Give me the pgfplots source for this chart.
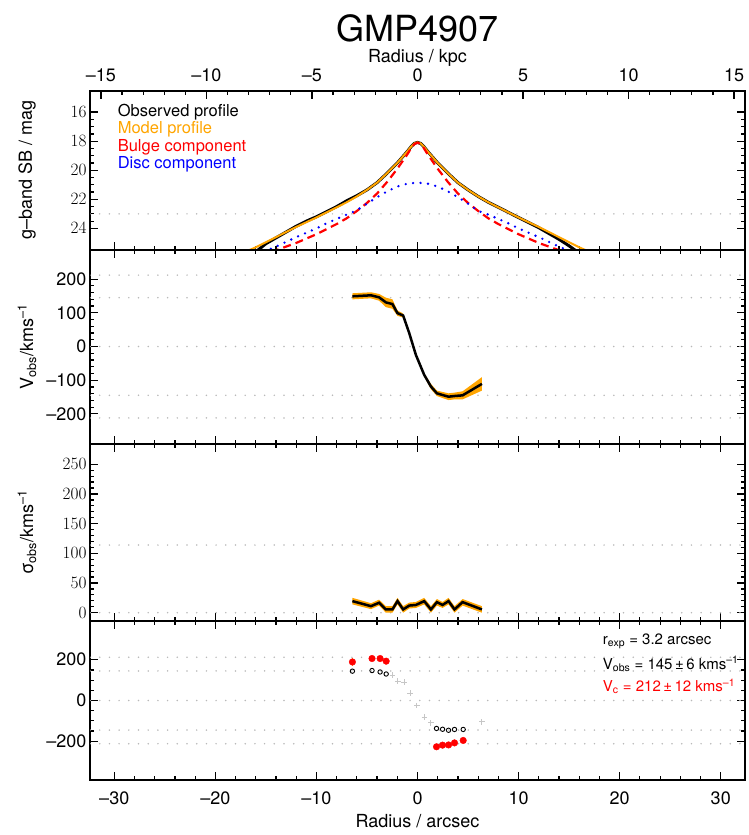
\documentclass[border=0pt]{standalone}
\usepackage{pgfplots}
\pgfplotsset{compat=1.18}
\usepackage{fontspec}
\setmainfont{TeX Gyre Heros}
\definecolor{myorange}{RGB}{255,165,0}
\definecolor{myred}{RGB}{255,0,0}
\definecolor{myblue}{RGB}{0,0,255}
\definecolor{dotgray}{RGB}{185,185,185}

\pgfplotsset{
  panel/.style={
    scale only axis, width=655pt, xmin=-32.4, xmax=32.4,
    axis line style={line width=2pt},
    tick align=inside,
    major tick length=8pt, minor tick length=4pt,
    every tick/.style={black, line width=1.2pt},
    xtick={-30,-20,...,30}, minor x tick num=4,
    tick label style={font=\fontsize{18}{20}\selectfont},
    label style={font=\fontsize{18}{20}\selectfont},
    ylabel style={at={(axis description cs:-0.096,0.5)}, anchor=center},
    xticklabels={},
    clip=true,
  },
  gridline/.style={dotgray, line width=1.7pt, dash pattern=on 0pt off 9.7pt, line cap=round},
}

\begin{document}
\begin{tikzpicture}
\useasboundingbox (0,0) rectangle (749pt,-835pt);

% ---------------- Panel 1: surface brightness ----------------
\begin{axis}[panel, at={(90pt,-91pt)}, anchor=north west, height=158.5pt,
  y dir=reverse, ymin=14.55, ymax=25.45,
  xtick pos=bottom, ytick pos=both,
  ytick={16,18,20,22,24}, minor y tick num=3,
  ylabel={g–band SB / mag}]
\addplot[gridline] coordinates {(-32.4,23) (32.4,23)};
\addplot[black, line width=3pt] coordinates {
(-15.8,25.5) (-15,25.05) (-14,24.65) (-13,24.25) (-12,23.85) (-11,23.5) (-10,23.2) (-9,22.85) (-8,22.5) (-7,22.1) (-6,21.75) (-5,21.35) (-4,20.85) (-3,20.2) (-2.5,19.85) (-2,19.5) (-1.5,19.1) (-1,18.7) (-0.6,18.35) (-0.3,18.15) (0,18.08)
(0.3,18.15) (0.6,18.35) (1,18.7) (1.5,19.1) (2,19.5) (2.5,19.85) (3,20.2) (4,20.85) (5,21.35) (6,21.8) (7,22.2) (8,22.55) (9,22.9) (10,23.25) (11,23.6) (12,23.95) (13,24.35) (14,24.75) (15,25.2) (15.6,25.5)};
\addplot[myorange, line width=2pt] coordinates {
(-17,25.6) (-16,25.3) (-14,24.6) (-12,23.9) (-10,23.25) (-8,22.55) (-7,22.2) (-6,21.8) (-5,21.35) (-4,20.85) (-3,20.2) (-2.5,19.85) (-2,19.5) (-1.5,19.1) (-1,18.7) (-0.6,18.35) (-0.3,18.15) (0,18.08)
(0.3,18.15) (0.6,18.35) (1,18.7) (1.5,19.1) (2,19.5) (2.5,19.85) (3,20.2) (4,20.85) (5,21.35) (6,21.8) (7,22.2) (8,22.55) (10,23.25) (12,23.9) (14,24.6) (16,25.3) (17,25.6)};
\addplot[myred, line width=2.2pt, dash pattern=on 8pt off 5pt] coordinates {
(-14.5,25.6) (-14,25.5) (-12,25.0) (-10,24.4) (-8,23.7) (-7,23.3) (-6,22.8) (-5,22.25) (-4,21.6) (-3,20.8) (-2.5,20.35) (-2,19.9) (-1.5,19.4) (-1,18.9) (-0.6,18.45) (-0.3,18.2) (0,18.1)
(0.3,18.2) (0.6,18.45) (1,18.9) (1.5,19.4) (2,19.9) (2.5,20.35) (3,20.8) (4,21.6) (5,22.25) (6,22.8) (7,23.3) (8,23.7) (10,24.4) (12,25.0) (14,25.5) (14.5,25.6)};
\addplot[myblue, line width=2.6pt, dash pattern=on 0pt off 7.5pt, line cap=round] coordinates {
(-15.2,25.6) (-14,25.25) (-12,24.6) (-10,24.0) (-9,23.65) (-8,23.35) (-7,23.05) (-6,22.75) (-5,22.3) (-4,21.85) (-3,21.45) (-2,21.12) (-1,20.92) (0,20.85)
(1,20.92) (2,21.12) (3,21.45) (4,21.85) (5,22.3) (6,22.8) (7,23.05) (8,23.35) (9,23.65) (10,24.0) (12,24.6) (14,25.25) (15.2,25.6)};
\node[anchor=west, text=black, font=\fontsize{16.5}{18}\selectfont] at (axis cs:-30,15.98) {Observed profile};
\node[anchor=west, text=myorange, font=\fontsize{16.5}{18}\selectfont] at (axis cs:-30,17.21) {Model profile};
\node[anchor=west, text=myred, font=\fontsize{16.5}{18}\selectfont] at (axis cs:-30,18.45) {Bulge component};
\node[anchor=west, text=myblue, font=\fontsize{16.5}{18}\selectfont] at (axis cs:-30,19.61) {Disc component};
\end{axis}

% top kpc axis
\begin{axis}[scale only axis, width=655pt, height=158.5pt, at={(90pt,-91pt)}, anchor=north west,
  xmin=-15.52, xmax=15.52, ymin=0, ymax=1, clip=false,
  axis x line*=top, hide y axis,
  axis line style={line width=2pt},
  tick align=inside, major tick length=8pt, minor tick length=4pt,
  every tick/.style={black, line width=1.2pt},
  xtick={-15,-10,...,15}, xticklabels={–15,–10,–5,0,5,10,15}, minor x tick num=4,
  tick label style={font=\fontsize{18}{20}\selectfont},
  xticklabel style={yshift=6pt}]
\addplot[draw=none] coordinates {(0,0.5)};
\node[font=\fontsize{18}{20}\selectfont, anchor=center] at (rel axis cs:0.5,1.208) {Radius / kpc};
\node[font=\fontsize{36}{40}\selectfont, anchor=center] at (rel axis cs:0.5,1.392) {GMP4907};
\end{axis}

% ---------------- Panel 2: V_obs ----------------
\begin{axis}[panel, at={(90pt,-249.5pt)}, anchor=north west, height=194pt,
  ymin=-288, ymax=288,
  ytick={-200,-100,0,100,200}, yticklabels={–200,–100,0,100,200}, minor y tick num=4,
  ylabel={V\textsubscript{obs}/kms\textsuperscript{–1}}]
\addplot[gridline] coordinates {(-32.4,212) (32.4,212)};
\addplot[gridline] coordinates {(-32.4,145) (32.4,145)};
\addplot[gridline] coordinates {(-32.4,0) (32.4,0)};
\addplot[gridline] coordinates {(-32.4,-145) (32.4,-145)};
\addplot[gridline] coordinates {(-32.4,-212) (32.4,-212)};
\addplot[fill=myorange, draw=none] coordinates {
(-6.44,158) (-4.6,161) (-3.8,156) (-3.13,145) (-2.48,140) (-1.98,107) (-1.42,98) (-0.82,45) (-0.16,-20) (0.66,-79) (1.33,-111) (1.92,-131) (2.48,-135) (3.07,-139) (3.66,-137) (4.46,-133) (6.37,-91)
(6.37,-131) (4.46,-157) (3.66,-157) (3.07,-159) (2.48,-153) (1.92,-147) (1.33,-127) (0.66,-89) (-0.16,-30) (-0.82,35) (-1.42,86) (-1.98,91) (-2.48,112) (-3.13,117) (-3.8,136) (-4.6,143) (-6.44,140)} -- cycle;
\addplot[black, line width=2.5pt] coordinates {
(-6.44,149) (-4.6,152) (-3.8,146) (-3.13,131) (-2.48,126) (-1.98,99) (-1.42,92) (-0.82,40) (-0.16,-25) (0.66,-84) (1.33,-119) (1.92,-139) (2.48,-144) (3.07,-149) (3.66,-147) (4.46,-145) (6.37,-111)};
\end{axis}

% ---------------- Panel 3: sigma ----------------
\begin{axis}[panel, at={(90pt,-443.5pt)}, anchor=north west, height=177.5pt,
  ymin=-14, ymax=285,
  ytick={0,50,...,250}, minor y tick num=4,
  ylabel={σ\textsubscript{obs}/kms\textsuperscript{–1}}]
\addplot[gridline] coordinates {(-32.4,114) (32.4,114)};
\addplot[gridline] coordinates {(-32.4,0) (32.4,0)};
\addplot[fill=myorange, draw=none] coordinates {
(-6.44,25) (-4.6,16) (-3.8,22) (-3.13,11) (-2.48,11) (-1.98,25) (-1.42,11) (-0.82,17) (-0.16,18) (0.66,25) (1.33,11) (1.92,23) (2.48,18) (3.07,25) (3.66,11) (4.46,23) (6.37,11)
(6.37,0) (4.46,12) (3.66,0) (3.07,14) (2.48,8) (1.92,12) (1.33,0) (0.66,14) (-0.16,8) (-0.82,7) (-1.42,0) (-1.98,14) (-2.48,0) (-3.13,0) (-3.8,12) (-4.6,6) (-6.44,14)} -- cycle;
\addplot[black, line width=2.5pt] coordinates {
(-6.44,19.5) (-4.6,11) (-3.8,16.8) (-3.13,5.5) (-2.48,5.5) (-1.98,19.5) (-1.42,5.5) (-0.82,12) (-0.16,13) (0.66,19.5) (1.33,5.5) (1.92,17.8) (2.48,13) (3.07,19.5) (3.66,5.5) (4.46,17.8) (6.37,5.5)};
\end{axis}

% ---------------- Panel 4: V_c ----------------
\begin{axis}[panel, at={(90pt,-621pt)}, anchor=north west, height=159pt,
  ymin=-390, ymax=390,
  ytick={-200,0,200}, yticklabels={–200,0,200}, minor y tick num=3,
  xticklabels={–30,–20,–10,0,10,20,30},
  xticklabel style={yshift=-8pt},
  xlabel={Radius / arcsec},
  xlabel style={at={(axis description cs:0.5,-0.258)}, anchor=center}]
\addplot[gridline] coordinates {(-32.4,212) (32.4,212)};
\addplot[gridline] coordinates {(-32.4,145) (32.4,145)};
\addplot[gridline] coordinates {(-32.4,0) (32.4,0)};
\addplot[gridline] coordinates {(-32.4,-145) (32.4,-145)};
\addplot[gridline] coordinates {(-32.4,-212) (32.4,-212)};
\addplot[only marks, mark=+, mark size=2.8pt, color=gray!45, line width=0.9pt] coordinates {
(-2.48,124) (-1.94,95) (-1.32,90) (-0.72,37) (-0.06,-25) (0.69,-82) (1.33,-110) (6.37,-105)};
\addplot[only marks, mark=o, mark size=2.2pt, black, line width=0.9pt, mark options={fill=gray!30}] coordinates {
(-6.44,144) (-4.5,147) (-3.7,140) (-3.1,130) (1.88,-137) (2.48,-141) (3.07,-146) (3.66,-142) (4.52,-142)};
\addplot[only marks, mark=*, mark size=3.3pt, myred, mark options={draw=myred, fill=myred},
  error bars/.cd, y dir=both, y explicit, error bar style={myorange, line width=1.2pt}, error mark=none]
  coordinates {
(-6.44,189) +- (0,20) (-4.5,206) +- (0,6) (-3.7,206) +- (0,6) (-3.1,193) +- (0,6)
(1.88,-227) +- (0,6) (2.48,-219) +- (0,6) (3.07,-218) +- (0,6) (3.66,-208) +- (0,6) (4.52,-196) +- (0,6)};
\node[anchor=west, font=\fontsize{15}{17}\selectfont] at (axis cs:18,291) {r\textsubscript{exp} = 3.2 arcsec};
\node[anchor=west, font=\fontsize{15}{17}\selectfont] at (axis cs:18,178) {V\textsubscript{obs} = 145\,±\,6 kms\textsuperscript{–1}};
\node[anchor=west, font=\fontsize{15}{17}\selectfont, text=myred] at (axis cs:18,70) {V\textsubscript{c} = 212\,±\,12 kms\textsuperscript{–1}};
\end{axis}
\end{tikzpicture}
\end{document}
